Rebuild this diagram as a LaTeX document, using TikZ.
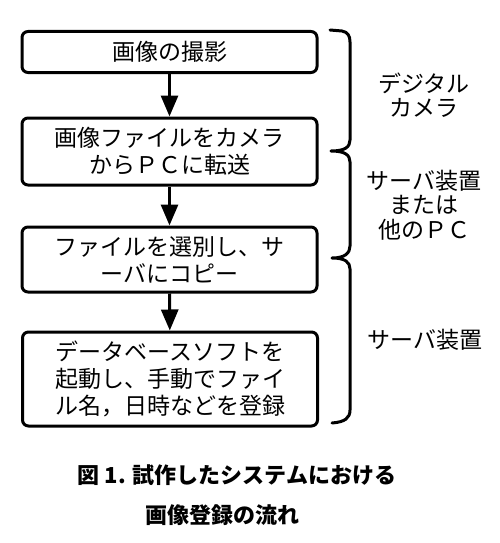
\documentclass[tikz,border=0pt]{standalone}
\usepackage{fontspec}
\setmainfont{Noto Sans CJK JP}
\newfontfamily\jpfont{Noto Sans CJK JP}
\usetikzlibrary{arrows.meta}
\tikzset{
  stepbox/.style={draw, line width=3pt, rounded corners=6pt, minimum width=295pt,
    text width=290pt, align=center, inner sep=0pt,
    font=\jpfont\fontsize{23pt}{27pt}\selectfont},
  flow/.style={line width=3pt, -{Triangle[width=17pt,length=21pt]}},
  side/.style={align=center, inner sep=0pt, font=\jpfont\fontsize{23pt}{24.5pt}\selectfont},
  captext/.style={inner sep=0pt, font=\jpfont\bfseries\fontsize{22pt}{26pt}\selectfont},
  bracepath/.style={line width=3pt, line cap=round, line join=round}
}
\begin{document}
\begin{tikzpicture}[x=1pt,y=-1pt]
\useasboundingbox (0,0) rectangle (500,543);
\fill[white] (0,0) rectangle (500,543);
\node[stepbox, minimum height=41pt] (b1) at (169.5,52) {画像の撮影};
\node[stepbox, minimum height=67pt] (b2) at (169.5,151.5) {画像ファイルをカメラ\\からＰＣに転送};
\node[stepbox, minimum height=65pt] (b3) at (169.5,259.5) {ファイルを選別し、サ\\ーバにコピー};
\node[stepbox, minimum height=94pt] (b4) at (170,379) {データベースソフトを\\起動し、手動でファイ\\ル名，日時などを登録};
\draw[flow] (b1) -- (b2);
\draw[flow] (b2) -- (b3);
\draw[flow] (b3) -- (b4);
\draw[bracepath] (330,30) -- (342,31) .. controls (348,32) and (350,36) .. (350,42)
  -- (350,140) .. controls (350,147) and (345,151) .. (331,151)
  .. controls (345,151) and (350,155) .. (350,162)
  -- (350,246) .. controls (350,253) and (345,258) .. (332,258)
  .. controls (345,258) and (350,262) .. (350,269)
  -- (350,410) .. controls (350,418) and (345,422) .. (332,423);
\node[side] (l1) at (424,95) {デジタル\\カメラ};
\node[side] (l2) at (424,205) {サーバ装置\\または\\他のＰＣ};
\node[side] (l3) at (425,340) {サーバ装置};
\node[captext] (c1) at (237,475) {図 1. 試作したシステムにおける};
\node[captext] (c2) at (222.5,515) {画像登録の流れ};
\end{tikzpicture}
\end{document}
